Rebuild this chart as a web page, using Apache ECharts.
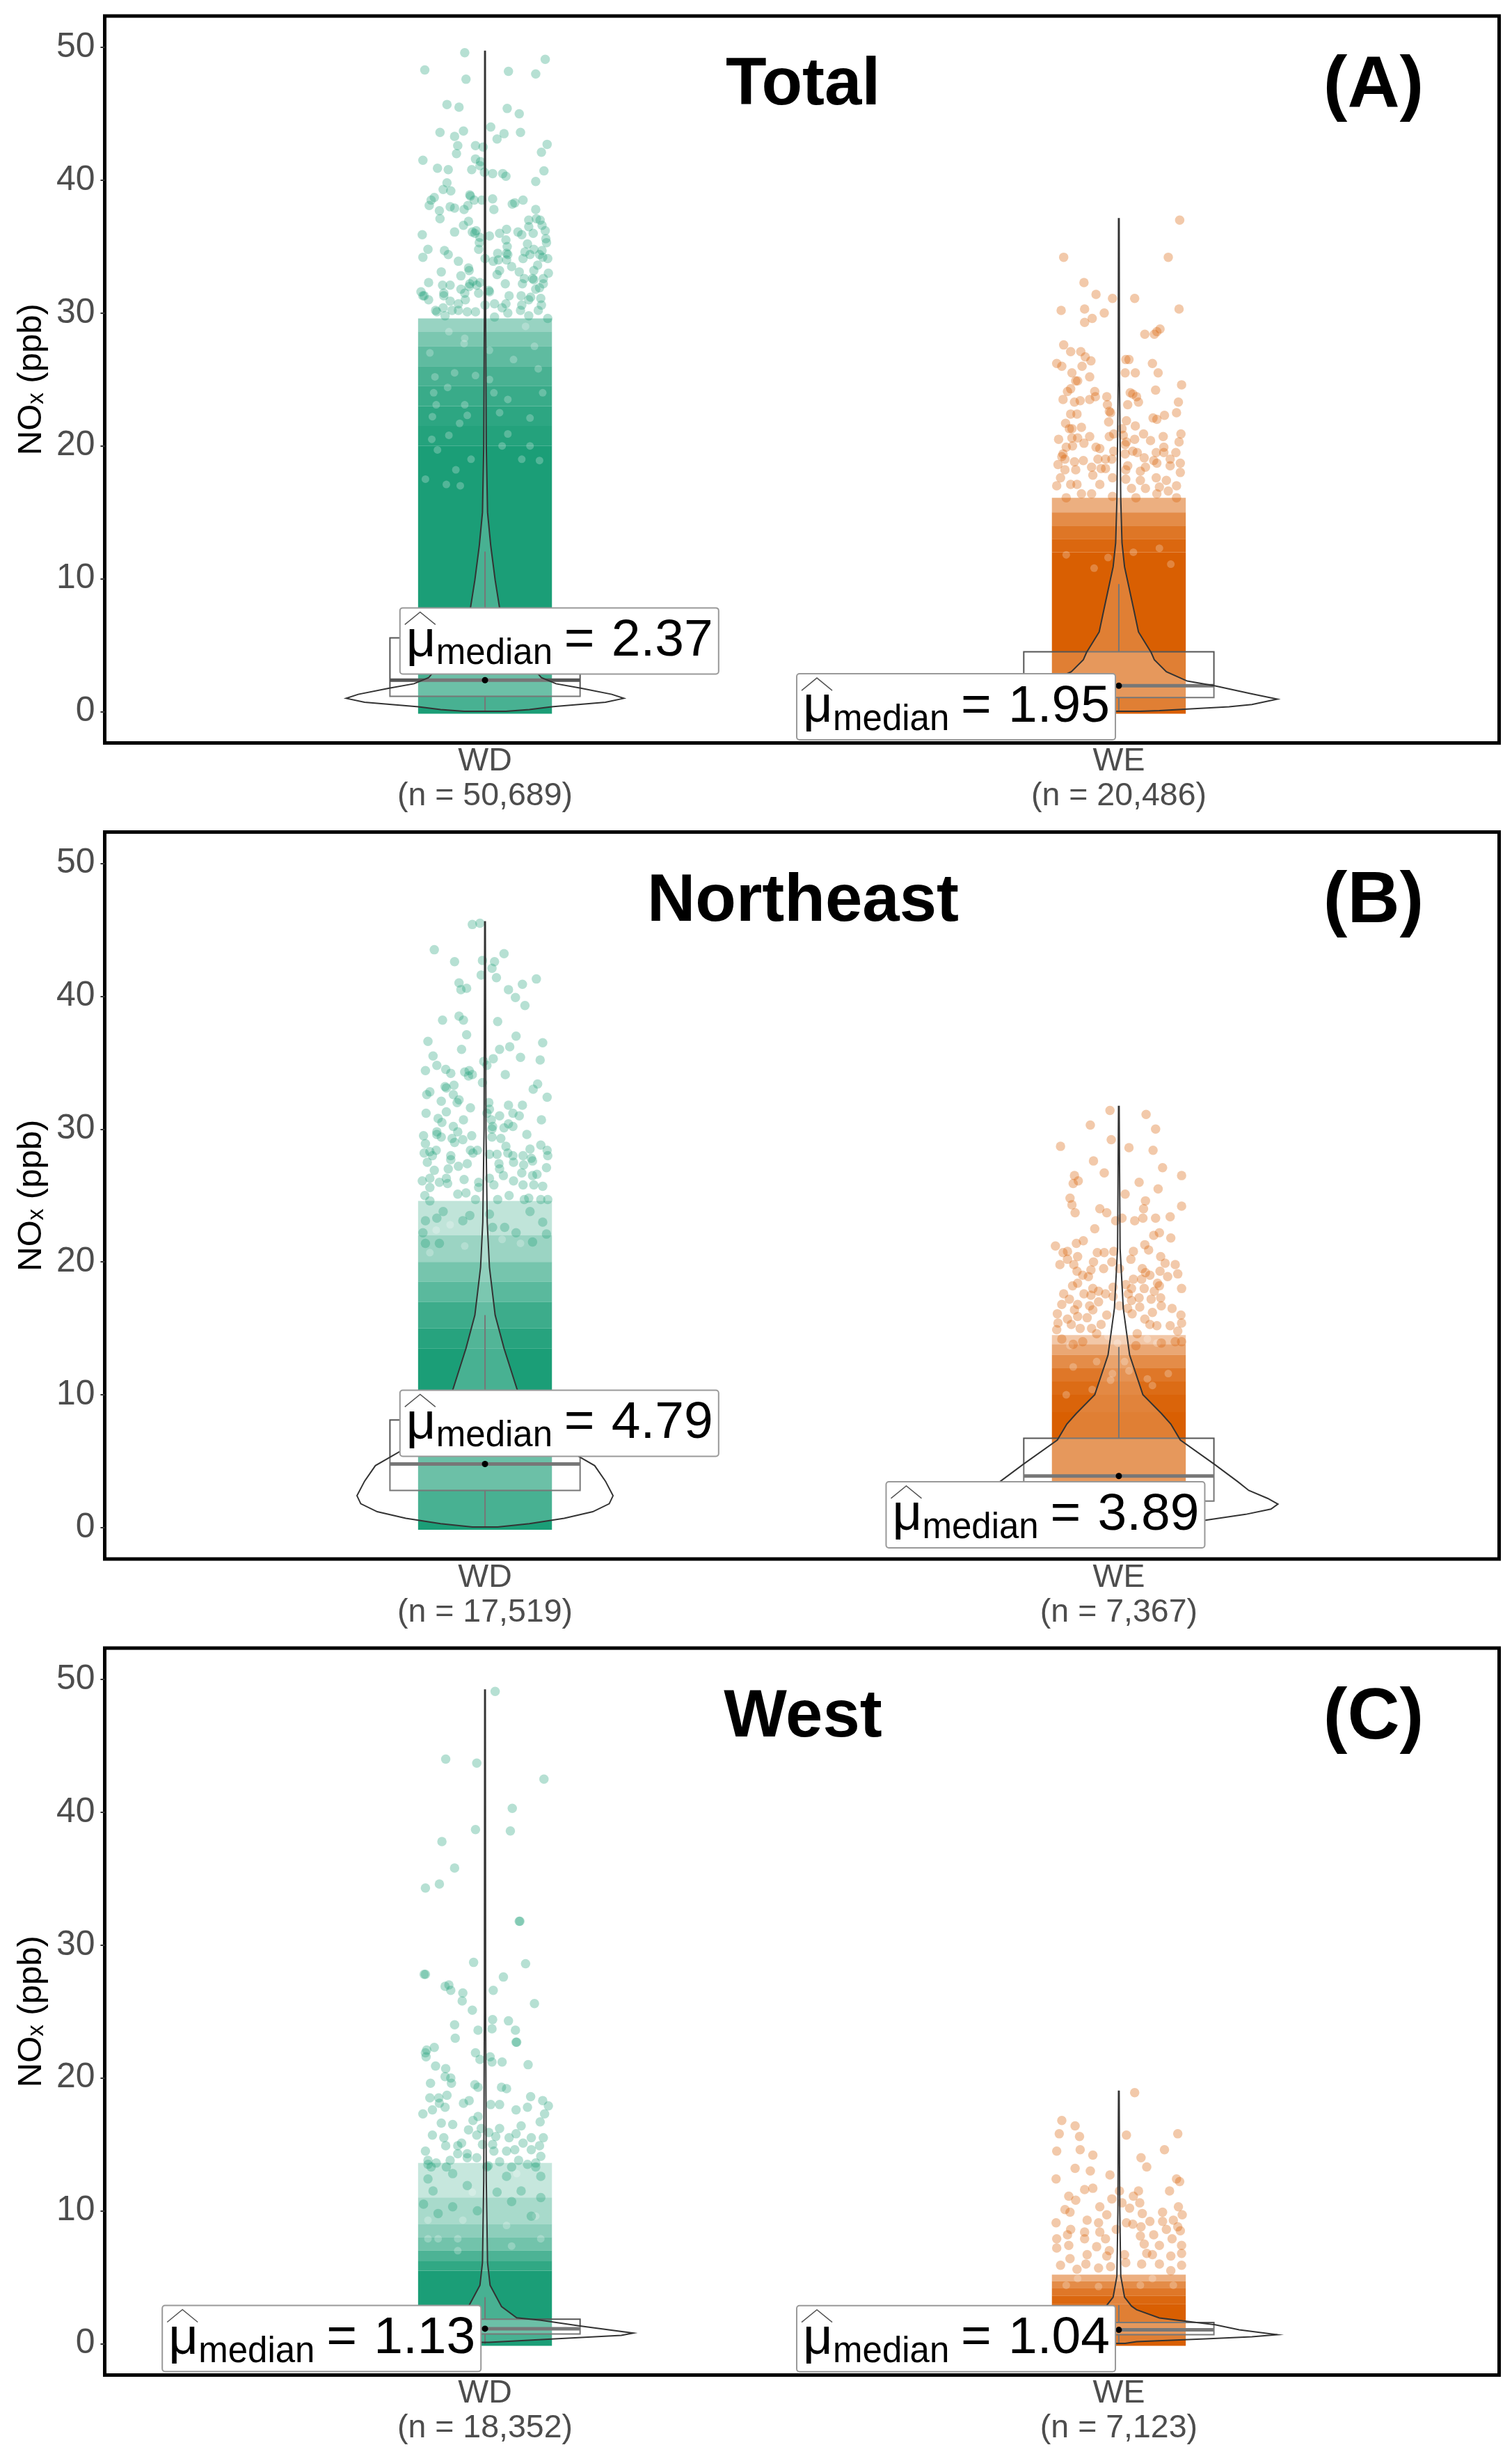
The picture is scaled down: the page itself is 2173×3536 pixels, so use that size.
<!DOCTYPE html>
<html><head><meta charset="utf-8">
<style>html,body{margin:0;padding:0;background:#fff}#c{width:2173px;height:3536px}</style>
<script src="https://cdn.jsdelivr.net/npm/echarts@6/dist/echarts.min.js"></script>
</head><body><div id="c"></div>
<script>
const categories=["WD","WE"];
const panelTitles=["Total","Northeast","West"];
const panelTags=["(A)","(B)","(C)"];
const counts=[["50,689","20,486"],["17,519","7,367"],["18,352","7,123"]];
const medianText=[["2.37","1.95"],["4.79","3.89"],["1.13","1.04"]];
const yTicks=[0,10,20,30,40,50];
// box stats: low whisker, q1, median, q3, high whisker
const statsA=[[0,1.15,2.37,5.55,12.05],[0,1.06,1.95,4.5,9.6]];
const statsB=[[0,2.8,4.79,8.1,16],[0,2.0,3.89,6.73,13.6]];
const statsC=[[0,0.73,1.13,1.85,3.5],[0,0.68,1.04,1.59,2.9]];
// label anchors in data units (x, y)
const labelAt=[[[1.115,5.32],[1.741,0.36]],[[1.115,7.86],[1.882,0.97]],[[0.74,0.39],[1.741,0.38]]];
// violin outline: y, half width (thousandths of an x unit)
const vioAWD=[0.02,33,0.15,70,0.37,105,0.7,190,1,219,1.3,200,1.77,151,2.1,112,2.55,89,2.83,84,4,60,5.5,40,7.8,23,9.9,16,12.5,9,15,4,20,2,30,1,49.7,0.5];
const vioAWE=[0.02,33,0.07,64,0.37,174,0.54,210,0.94,250,1.33,210,1.94,152,2.3,108,3,75,3.9,56,4.45,51,6,31,7.8,23,10.9,9,12.7,5,16,3,25,1,37.1,0.5];
const vioBWD=[0.05,20,0.3,70,0.7,125,1.2,170,1.8,196,2.4,202,3.5,190,4.67,173,6.4,110,8,70,10.5,50,13.5,30,16,16,19.6,7,23,3.5,30,1.5,45.6,0.5];
const vioBWE=[0.05,30,0.2,70,0.55,135,1,200,1.4,240,1.77,251,2.2,235,2.8,205,3.45,188,4.8,150,6.6,97,7.8,82,8.6,67,10,38,13,17,16.5,7,21,2,31.7,0.5];
const vioCWD=[0.1,6,0.35,105,0.63,215,0.8,234,1.33,150,1.77,88,1.95,50,2.8,26,4.4,8,6.1,4,12.3,2,25,1,49.2,0.5];
const vioCWE=[0.02,10,0.16,28,0.37,137,0.52,210,0.68,250,1.05,190,1.42,152,1.73,100,1.94,64,2.56,28,2.83,20,3.5,9,5.1,3,10,1.5,19,0.5];
// solid / near-solid point clouds: y low, y high, coverage
const bandAWD=[[-0.16,20,1],[20,21.5,0.96],[21.5,23,0.92],[23,24.5,0.87],[24.5,26,0.8],[26,27.5,0.7],[27.5,28.6,0.58],[28.6,29.6,0.45]];
const bandAWE=[[-0.16,12,1],[12,13,0.95],[13,14,0.86],[14,15,0.72],[15,16.1,0.5]];
const bandBWD=[[-0.16,13.5,1],[13.5,15,0.95],[15,17,0.85],[17,18.5,0.72],[18.5,20,0.6],[20,22,0.44],[22,24.6,0.28]];
const bandBWE=[[-0.16,8.7,1],[8.7,10,0.97],[10,11,0.92],[11,12,0.85],[12,13,0.72],[13,13.8,0.55],[13.8,14.5,0.35]];
const bandCWD=[[-0.16,5.5,1],[5.5,6.2,0.9],[6.2,7,0.78],[7,8,0.62],[8,9,0.5],[9,11,0.38],[11,13.6,0.25]];
const bandCWE=[[-0.16,3,1],[3,3.6,0.95],[3.6,4.2,0.85],[4.2,4.7,0.72],[4.7,5.2,0.5]];
// pale clearings seen in the dense clouds: x jitter (thousandths), y
const gapsAWD=[-57,28.6,-32,28.1,-33,27.7,7,27.2,78,27.5,45,26.5,84,25.8,64,29,-87,27,-79,25.2,-48,25.5,-15,25.3,7,25,-59,24.4,14,24,36,23.5,91,24,-81,24,-32,23.1,-77,23.1,23,22.5,-83,22.2,71,22.1,-40,21.7,-28,22.3,36,20.9,-57,20.8,-84,20.5,27,20,71,20,-75,19.7,-22,19,58,19,86,18.9,-46,18.2,-94,17.5,-39,17,-61,17.1];
const gapsAWE=[-39,10.8,-83,11.8,23,12,64,12.3,-17,11.6,82,11.1];
const gapsBWD=[-77,22.4,-55,22.8,-87,20.7,-32,21.2,27,21.7,56,21.4];
const gapsBWE=[-85,14.9,-2,13.9,60,13.9,45,14.2,-77,13.7,-17,14.4,9,12.5,-35,12.5,-83,10,-42,10.4,53,10.7,-10,11.6,16,11.8,78,11.6,-72,12.1,45,11.2,-13,11.1];
const gapsCWD=[-43,7.9,-74,7.9,-90,7.9,42,7.35,80,9.6,-35,9.3,34,8.9,-90,9.3,88,7.9,-20,11.4,50,12.8,-43,7];
const gapsCWE=[-83,4.4,-32,4.3,53,4.9,34,4.4,86,4.4,-65,4.9];
// individual points: x jitter (thousandths of an x unit), y
const dotsAWD=[-32,49.6,95,49.1,-95,48.3,37,48.2,80,48,-30,47.6,-60,45.7,-41,45.5,35,45.4,54,45,9,44,-71,43.6,-34,43.7,-48,43.3,30,43.5,56,43.6,19,43.1,98,42.7,-43,42.6,-15,42.6,-3,42.5,89,42.1,-45,42,-98,41.5,-15,41.6,-7,41.4,-8,41.1,-75,40.9,-58,40.8,-21,40.8,-1,40.6,12,40.5,28,40.5,33,40.3,93,40.7,80,39.9,-60,39.8,-66,39.3,-54,39.2,-24,38.9,-23,38.8,-80,38.7,-85,38.5,12,38.6,60,38.5,-5,38.5,-17,38.5,-88,38.1,-55,38,-48,37.9,-27,38.1,-33,37.8,43,38.2,47,38.3,14,37.8,-72,37.7,80,37.8,-71,37.1,69,37,81,37.1,87,37,-26,36.9,-34,36.6,69,36.5,90,36.6,-99,35.9,-48,36.1,-20,36.1,-14,36.2,-16,36,95,36.2,34,36.3,23,36,52,36.1,58,35.9,76,36,7,35.8,-8,35.7,33,35.5,96,35.6,97,35.3,-9,35.3,67,35.2,35,35,-10,34.8,-90,34.8,-64,34.7,-58,34.4,77,34.8,90,34.7,63,34.6,20,34.5,34,34.5,36,34.4,71,34.4,86,34.4,-98,34.2,-42,33.9,0,34.1,13,33.9,21,34,60,34.1,99,34.1,91,34.2,34,34,42,33.5,83,33.6,-26,33.4,-25,33.2,-69,33.1,23,33.2,19,32.9,54,33.1,77,33.2,100,33,-38,32.8,-89,32.3,-19,32.4,-8,32.3,-67,32.1,-55,32.1,-24,32.2,-25,32,-13,32.1,32,32.2,62,32.6,59,32.2,75,32.6,77,32.5,92,32.6,92,32.2,-38,31.8,-101,31.6,-98,31.3,-96,31.3,-89,31,-65,31.5,-65,31.3,-32,31.5,-31,31,-10,31.5,6,31.7,7,31.6,38,31.3,57,31.3,72,31.2,69,31,88,31.1,86,31.9,80,31.8,-55,30.9,-42,30.7,0,30.6,15,30.7,33,30.7,58,30.6,89,30.6,-66,30.4,-78,30.2,-76,30.1,-52,30.2,-42,30.2,-28,30.1,-15,30.1,27,30.4,56,30.2,84,30.2,-63,29.8,15,29.7,36,30,69,29.8,99,29.6];
const dotsAWE=[96,37,-87,34.2,78,34.2,-55,32.3,-36,31.4,-10,31.1,25,31.1,-91,30.2,-54,30.3,-23,30,95,30.3,-42,29.6,-54,29.3,41,28.4,65,28.8,60,28.6,56,28.4,-87,27.6,-76,27.1,-60,27.1,-53,26.7,-44,26.4,-58,26,-98,26.2,-90,26,11,26.5,16,26.5,53,26.2,10,25.5,26,25.5,62,25.5,-74,25.5,-46,25.2,-68,24.9,-65,24.9,99,24.6,-76,24.3,-81,24.1,58,24.2,-38,24.1,-37,23.7,18,24,22,23.9,28,23.7,-19,23.7,-88,23.5,-70,23.3,-61,23.4,-46,23.5,-18,23.1,14,23.1,31,23.3,94,23.3,-15,22.6,-13,22.5,-76,22.4,-66,22.4,91,22.5,72,22.3,54,22.1,60,22,-16,21.8,12,21.9,-84,21.7,-78,21.3,-74,21.3,-59,21.4,26,21.5,5,21.3,-95,20.5,-74,20.6,-65,20.6,-46,20.7,-15,20.7,-8,20.9,7,20.8,39,20.9,70,20.7,98,20.9,25,20.5,50,20.4,95,20.3,12,20.3,-55,20.2,-83,19.9,-73,20,-36,19.9,-30,19.8,10,20.1,71,19.9,-88,19.4,-8,19.6,10,19.4,22,19.6,29,19.5,59,19.5,90,19.5,71,19.5,40,19.1,-90,19.2,-96,18.6,-85,19,-70,18.8,-56,18.9,-33,19,-21,19,-11,19,55,18.9,60,18.7,81,19,97,18.7,-85,18.2,-68,18.2,-43,18.4,-28,18.3,-21,18.3,14,18.5,11,18.2,42,18.4,34,18.1,81,18.5,97,18,-92,17.6,-41,17.8,-10,17.6,11,17.5,34,17.4,59,17.6,75,17.4,91,17,-30,17.1,-98,17,-76,17.1,-66,17.1,20,16.8,42,16.8,64,16.9,78,16.6,-59,16.4,-83,16.1,-43,16.4,-10,16.2,27,16.1,60,16.4,91,16.1];
const dotsBWD=[-20,45.4,-8,45.5,-80,43.5,30,43.2,-48,42.6,-4,42.7,15,42.6,11,42.1,-6,41.6,18,41.4,81,41.3,-41,41,-38,40.5,-29,40.6,59,40.9,37,40.5,48,39.9,63,39.3,-67,38.2,-41,38.5,-34,38.2,20,38.1,-29,37.1,49,37,-90,36.6,91,36.5,-37,36,23,36,39,36.2,-82,35.5,13,35.3,56,35.4,87,35.2,-2,35.1,3,34.8,-76,34.8,-62,34.5,-54,34.2,-94,34.4,-32,34.3,-25,34.4,-20,34.1,-26,34,32,34.1,-4,33.5,-49,33.3,-63,33.2,-61,33.1,83,33.4,76,33,-87,32.8,-92,32.6,-50,32.6,98,32.4,-69,32.1,-41,32.2,-44,32,6,32,37,31.8,59,31.8,-23,31.6,7,31.5,3,31.2,-93,31.2,-61,31.3,44,31.2,54,31,23,31,-74,30.8,-68,30.5,-34,30.7,89,30.7,10,30.7,-50,30.2,12,30.2,11,30,30,30.1,37,30.4,44,30.2,-76,29.8,-43,29.8,66,29.6,-97,29.5,-76,29.6,-69,29.4,-52,29.3,-35,29.2,-48,29,-21,29.5,11,29.4,25,29.3,-94,28.9,33,28.7,88,28.8,-23,28.4,-12,28.4,-19,28.2,-96,28.2,-87,28.3,-77,28.4,-83,28,7,28.1,19,28.1,36,28.2,71,28.5,98,28.4,60,28,99,28,-54,28,-54,27.7,44,28,45,27.5,73,27.8,75,27.6,-91,27.5,-28,27.4,-42,27.2,22,27.4,61,27.3,97,27.1,-58,27,-80,26.9,23,27,58,26.7,29,26.5,75,26.5,82,26.6,-99,26.1,-87,26.3,-61,26.3,-33,26.2,7,26.3,45,26.1,-72,26,-87,25.6,-59,25.9,-10,26,14,25.8,60,25.8,77,25.8,91,25.7,-10,25.6,-95,25,-43,25.1,-30,25.2,38,25,-87,24.6,-15,24.7,20,24.7,62,24.7,69,24.8,88,24.7,99,24.7,-66,23.8,-94,23.1,-76,23.3,-35,23.1,-24,23.5,7,23.6,71,23.8,31,22.6,91,23,12,22.6,-98,22.2,49,22.2,97,22.1,75,21.5,-72,21.4,-94,21.4];
const dotsBWE=[-14,31.4,43,31.1,-45,30.3,58,30,-92,28.7,-12,29.2,16,28.6,54,28.4,-40,27.6,69,27.1,-23,26.7,99,26.5,-70,26.5,-64,26.1,-72,25.9,32,26,62,25.5,10,25.1,-77,24.8,-74,24.3,42,24.6,-69,23.7,-30,24,-19,23.7,39,24,99,24.2,38,23.3,81,23.4,58,23.3,-5,23.1,5,23.3,25,23.1,-38,22.5,64,22.2,55,22,82,21.8,-56,21.6,-67,21.4,-100,21.2,41,21.3,47,20.9,-81,20.8,-88,20.7,-34,20.7,-23,20.7,-8,20.8,23,20.8,-65,20.4,-81,20.2,19,20.2,66,20.4,-11,20,-40,20,-71,19.8,-93,19.8,73,19.9,89,19.8,-24,19.5,1,19.5,-44,19.4,-66,19.3,37,19.5,65,19.3,42,19.2,93,19.1,-57,19,-48,18.9,77,18.9,49,19,23,18.7,36,18.7,-65,18.4,-73,18.2,61,18.4,-9,18.1,11,18.3,99,18,64,18.2,40,18,20,18,-55,17.6,-44,17.5,-41,18,-32,17.8,-21,17.6,-87,17.6,-9,17.4,15,17.6,56,17.8,66,17.3,-78,17.2,20,17.1,32,17.3,51,17.2,-65,16.8,-90,16.8,-32,17,33,16.6,67,16.7,84,16.5,-46,16.7,1,16.7,-70,16.4,-97,16.1,-41,16.4,14,16.5,21,16.1,53,16.2,98,16,-65,15.9,-50,15.8,-19,16,-81,15.7,-96,15.4,41,15.7,99,15.4,-98,14.9,-75,15.3,-28,15.3,49,15.3,60,15.2,81,15.2,-61,15,-43,15,93,14.8,-90,14.2,-57,14,-35,14.6,29,14.6,99,14,67,13.9,89,14,-72,13.8,27,13.7];
const dotsCWD=[16,49.1,-62,44,-13,43.7,93,42.5,43,40.3,-15,38.7,40,38.6,-68,37.8,-48,35.8,-72,34.6,-94,34.3,55,31.8,54,31.8,-18,28.7,64,28.6,-94,27.8,-96,27.8,29,27.6,-57,27,-63,26.9,-54,26.6,13,26.6,-35,26.4,-36,25.8,78,25.6,-20,25.1,12,24.4,37,24.3,-48,24,-11,23.6,11,23.7,48,23.6,-47,23,50,22.7,49,22.7,-80,22.3,-92,22.1,-94,21.9,-93,21.6,-15,21.9,8,21.6,-8,21.4,11,21.2,27,21.2,-78,20.9,68,21,-62,20.7,-63,20.1,-54,20,-53,19.6,-86,19.6,-16,19.5,-11,19.3,26,19.3,34,19.2,-60,18.7,-87,18.5,-73,18.5,72,18.6,91,18.3,-72,18.1,-25,18.3,-34,18.1,9,18,23,18,100,17.9,-83,17.6,-63,17.8,49,17.6,67,17.8,-98,17.3,94,17.3,-11,17.1,-19,16.8,-69,16.6,-51,16.5,87,16.7,-26,16.1,-6,16.2,23,16.2,57,16.4,-83,15.7,-65,15.5,-13,15.7,6,15.9,17,15.6,49,15.8,38,15.5,92,15.5,73,15.5,-37,15.1,-62,14.9,-43,14.9,-4,15,12,15,60,15.1,86,14.9,-94,14.5,73,14.6,-43,14.3,-28,14.3,14,14.5,34,14.5,47,14.6,88,14.1,-90,13.8,-77,13.6,-55,13.8,-28,14,-13,14,23,13.7,53,13.8,67,13.5,-85,13.3,-61,13.3,5,13.4,42,13.3,80,13.3,-90,13.5,3,13.3,80,13.6,-90,12.4,-51,12.8,34,12.6,88,12.6,57,11.5,-82,11.5,-28,11.9,19,11.4,88,11,-97,10.5,-51,10.3,42,10.7,-12,10,-74,9.8,73,9.6];
const dotsCWE=[25,18.9,-90,16.8,-69,16.4,-94,15.8,-62,15.6,12,15.7,93,15.8,-98,14.5,-61,14.6,72,14.6,-41,14.2,35,14,44,13.3,-69,13.2,-45,13,-14,12.7,-99,12.4,91,12.4,96,12.2,-54,11.6,-41,11.7,1,11.5,80,11.5,31,11.5,-79,11.1,-68,10.8,-11,10.9,23,11.1,-30,10.3,94,10.3,33,10.6,5,10.6,-85,10.1,-77,9.9,17,10.2,69,9.9,37,9.8,100,9.7,-19,9.7,-99,9.1,-50,9.3,-32,9.1,49,9.2,69,9.2,86,9.3,12,9.1,22,9,93,8.8,-76,8.6,-54,8.4,-4,8.6,35,8.8,75,8.6,97,8.5,-98,7.9,-81,8.2,-30,8.4,-54,7.9,-21,7.9,34,8.1,55,8.2,84,7.9,-79,7.4,-98,7.2,-35,7.3,40,7.5,64,7.4,99,7.4,-15,7,-50,6.7,9,6.7,44,6.8,82,6.6,99,6.8,-77,6.4,-19,6.6,53,6.7,-92,5.9,-52,6,-13,5.8,11,6.1,36,6,64,6,99,5.9,-66,5.6,-32,5.7,82,5.5];

const colors=["#1B9E77","#D95F02"];
const dotColors=["rgba(27,158,119,0.4)","rgba(217,95,2,0.42)"];
const cloudHalf=0.1056, boxHalf=0.15;
const font="Liberation Sans";
const panels=[
 {stats:statsA,vio:[vioAWD,vioAWE],band:[bandAWD,bandAWE],dots:[dotsAWD,dotsAWE],gaps:[gapsAWD,gapsAWE]},
 {stats:statsB,vio:[vioBWD,vioBWE],band:[bandBWD,bandBWE],dots:[dotsBWD,dotsBWE],gaps:[gapsBWD,gapsBWE]},
 {stats:statsC,vio:[vioCWD,vioCWE],band:[bandCWD,bandCWE],dots:[dotsCWD,dotsCWE],gaps:[gapsCWD,gapsCWE]}];
const panelTop=[23,1195.5,2368], panelH=1044.5;

function pairs(flat,cx){const o=[];for(let i=0;i<flat.length;i+=2)o.push([cx+flat[i]/1000,flat[i+1]]);return o;}

const grid=[],xAxis=[],yAxis=[],series=[],title=[];
panels.forEach((P,pi)=>{
 grid.push({left:150.5,width:2004,top:panelTop[pi],height:panelH,show:true,borderColor:"#000",borderWidth:5,backgroundColor:"transparent",containLabel:false});
 xAxis.push({gridIndex:pi,type:"value",min:0.4,max:2.6,splitLine:{show:false},axisLine:{show:false},
  axisTick:{show:true,inside:true,length:14,customValues:[1,2],lineStyle:{color:"#222",width:2.5}},
  axisLabel:{customValues:[1,2],margin:2,color:"#4D4D4D",fontFamily:font,fontSize:46.5,lineHeight:50,
   formatter:v=>categories[v-1]+"\n(n = "+counts[pi][v-1]+")"}});
 yAxis.push({gridIndex:pi,type:"value",min:-2.36,max:52.36,splitLine:{show:false},axisLine:{show:false},
  axisTick:{show:true,length:6,customValues:yTicks,lineStyle:{color:"#333",width:2}},
  axisLabel:{customValues:yTicks,margin:14,color:"#4D4D4D",fontFamily:font,fontSize:50,padding:[6,0,0,0]},
  name:"NO{s|x} (ppb)",nameLocation:"middle",nameGap:78,
  nameTextStyle:{color:"#000",fontFamily:font,fontSize:49,rich:{s:{fontSize:33,fontFamily:font,color:"#000",padding:[14,0,0,0]}}}});
 title.push({text:panelTitles[pi],left:1154,top:panelTop[pi]+53,textAlign:"center",padding:0,textStyle:{fontFamily:font,fontSize:96,fontWeight:"bold",color:"#000"}});
 title.push({text:panelTags[pi],left:1974,top:panelTop[pi]+49,textAlign:"center",padding:0,textStyle:{fontFamily:font,fontSize:104,fontWeight:"bold",color:"#000"}});
 const ax={xAxisIndex:pi,yAxisIndex:pi,silent:true,animation:false};
 [0,1].forEach(g=>{
  const cx=g+1;
  // dense part of the cloud
  series.push({...ax,type:"custom",z:2,data:P.band[g].map(b=>[cx,b[0],b[1],b[2]]),encode:{x:0,y:[1,2]},
   renderItem:(p,api)=>{
    const a=api.coord([api.value(0)-cloudHalf,api.value(2)]),b=api.coord([api.value(0)+cloudHalf,api.value(1)]);
    return {type:"rect",shape:{x:a[0],y:a[1],width:b[0]-a[0],height:b[1]-a[1]},style:{fill:colors[g],opacity:api.value(3)}};
   }});
  // clearings in the dense part
  series.push({...ax,type:"scatter",z:3,symbol:"circle",symbolSize:11,itemStyle:{color:"rgba(255,255,255,0.3)"},data:pairs(P.gaps[g],cx)});
  // individual points
  series.push({...ax,type:"scatter",z:3,symbol:"circle",symbolSize:13.5,itemStyle:{color:dotColors[g]},data:pairs(P.dots[g],cx)});
  // box + whiskers
  const s=P.stats[g];
  series.push({...ax,type:"custom",z:4,data:[[cx,...s]],encode:{x:0,y:[1,2,3,4,5]},
   renderItem:(p,api)=>{
    const c=api.value(0),lo=api.coord([c,api.value(1)]),q1=api.coord([c-boxHalf,api.value(2)]),m0=api.coord([c-boxHalf,api.value(3)]),m1=api.coord([c+boxHalf,api.value(3)]),q3=api.coord([c+boxHalf,api.value(4)]),hi=api.coord([c,api.value(5)]);
    const ln={stroke:"#555",lineWidth:2,fill:null};
    return {type:"group",children:[
     {type:"line",shape:{x1:lo[0],y1:lo[1],x2:lo[0],y2:q1[1]},style:ln},
     {type:"line",shape:{x1:hi[0],y1:hi[1],x2:hi[0],y2:q3[1]},style:ln},
     {type:"rect",shape:{x:q1[0],y:q3[1],width:q3[0]-q1[0],height:q1[1]-q3[1]},style:{fill:"rgba(255,255,255,0.2)",stroke:"#555",lineWidth:2}},
     {type:"line",shape:{x1:m0[0],y1:m0[1],x2:m1[0],y2:m1[1]},style:{stroke:"#555",lineWidth:5}}]};
   }});
  // violin
  const v=P.vio[g];
  series.push({...ax,type:"custom",z:5,data:[[cx,0]],encode:{x:0,y:1},
   renderItem:(p,api)=>{
    const right=[],left=[];
    for(let i=0;i<v.length;i+=2){right.push(api.coord([cx+v[i+1]/1000,v[i]]));left.unshift(api.coord([cx-v[i+1]/1000,v[i]]));}
    return {type:"polygon",shape:{points:right.concat(left),smooth:0},style:{fill:"rgba(255,255,255,0.2)",stroke:"#333",lineWidth:2}};
   }});
  // median dot and label
  series.push({...ax,type:"custom",z:8,data:[[cx,s[2],labelAt[pi][g][0],labelAt[pi][g][1]]],encode:{x:[0,2],y:[1,3]},
   renderItem:(p,api)=>{
    const m=api.coord([api.value(0),api.value(1)]),l=api.coord([api.value(2),api.value(3)]);
    const L=l[0]-227,T=l[1]-47.5;
    const t=(text,x,y,size)=>({type:"text",style:{text,x:L+x,y:T+y,fill:"#000",font:size+"px '"+font+"'",textAlign:"left",textVerticalAlign:"middle"}});
    return {type:"group",children:[
     {type:"circle",shape:{cx:m[0],cy:m[1],r:4.5},style:{fill:"#000"},z2:1},
     {type:"rect",shape:{x:L,y:T,width:458,height:95,r:4},style:{fill:"#fff",stroke:"#999",lineWidth:2},z2:2},
     {type:"polyline",shape:{points:[[L+7,T+24],[L+29,T+6],[L+51,T+24]]},style:{stroke:"#555",lineWidth:1.5,fill:null},z2:3},
     {...t("μ",9,49,74),z2:3},
     {...t("median",52,67,51),z2:3},
     {...t("=",236,47,75),z2:3},
     {...t(medianText[pi][g],304,48,75),z2:3}]};
   }});
 });
});
const chart=echarts.init(document.getElementById("c"),null,{renderer:"canvas",width:2173,height:3536});
chart.setOption({animation:false,backgroundColor:"#fff",title,grid,xAxis,yAxis,series,tooltip:{show:false}});
</script></body></html>
